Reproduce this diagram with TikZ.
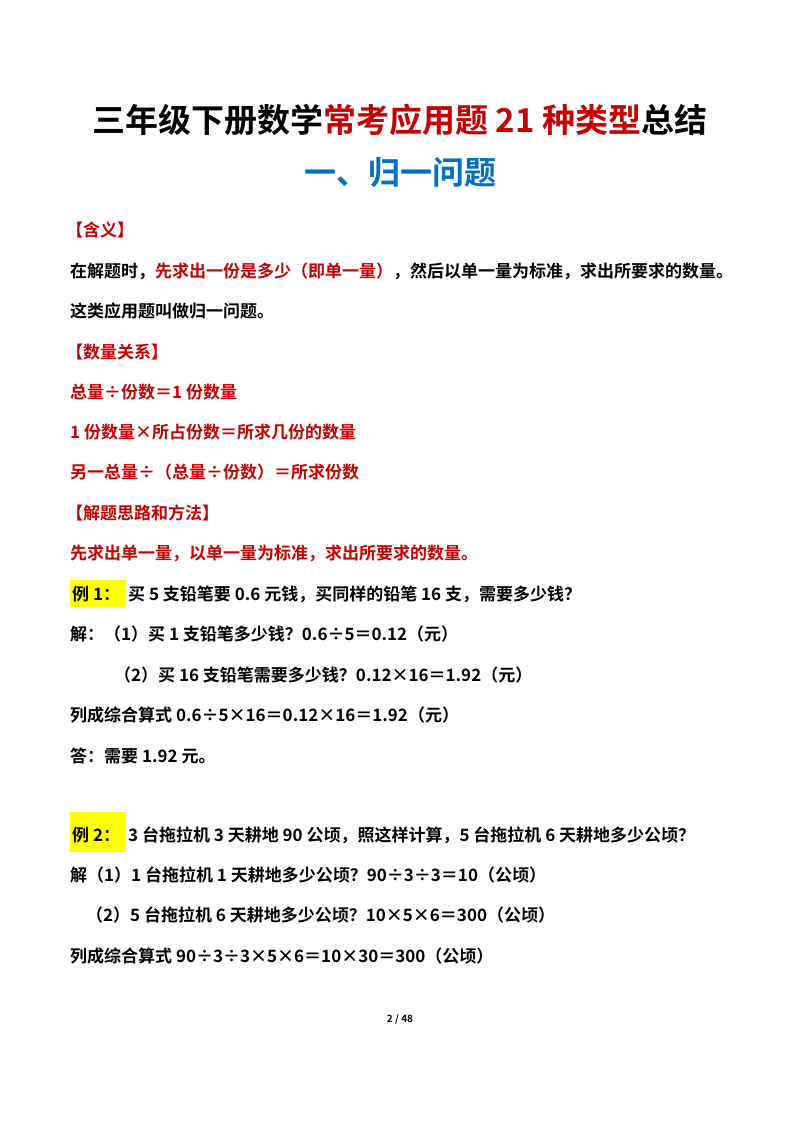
\documentclass[tikz,border=0pt]{standalone}
\usepackage{fontspec}
\setmainfont{Noto Sans CJK SC}[BoldFont={* Bold}]
\definecolor{tred}{RGB}{200,0,0}
\definecolor{tblue}{RGB}{0,112,192}
\definecolor{hl}{RGB}{255,255,0}
\begin{document}
\begin{tikzpicture}[x=1pt,y=-1pt,
  txt/.style={anchor=base west,inner sep=0pt,font=\fontsize{17}{17}\selectfont\bfseries}]
\useasboundingbox[fill=white] (0,0) rectangle (800,1132);
\node[anchor=base,inner sep=0pt,font=\fontsize{33}{33}\selectfont\bfseries] (title) at (400,132) {三年级下册数学\textcolor{tred}{常考应用题 21 种类型}总结};
\node[anchor=base,inner sep=0pt,font=\fontsize{32}{32}\selectfont\bfseries,text=tblue] (sub) at (400,184) {一、归一问题};
\node[txt,text=tred] (l1) at (66,236) {【含义】};
\node[txt] (l2) at (70,277) {在解题时，\textcolor{tred}{先求出一份是多少（即单一量）}，然后以单一量为标准，求出所要求的数量。};
\node[txt] (l3) at (70,317) {这类应用题叫做归一问题。};
\node[txt,text=tred] (l4) at (66,358) {【数量关系】};
\node[txt,text=tred] (l5) at (70,398) {总量÷份数＝1 份数量};
\node[txt,text=tred] (l6) at (70,438) {1 份数量×所占份数＝所求几份的数量};
\node[txt,text=tred] (l7) at (70,478) {另一总量÷（总量÷份数）＝所求份数};
\node[txt,text=tred] (l8) at (66,519) {【解题思路和方法】};
\node[txt,text=tred] (l9) at (70,559) {先求出单一量，以单一量为标准，求出所要求的数量。};
\fill[hl] (70,580) rectangle (126,607);
\node[txt] (e1) at (72,600) {例 1：};
\node[txt] (e1t) at (128,600) {买 5 支铅笔要 0.6 元钱，买同样的铅笔 16 支，需要多少钱？};
\node[txt] (e1a) at (70,640) {解：（1）买 1 支铅笔多少钱？0.6÷5＝0.12（元）};
\node[txt] (e1b) at (114,681) {（2）买 16 支铅笔需要多少钱？0.12×16＝1.92（元）};
\node[txt] (e1c) at (70,721) {列成综合算式 0.6÷5×16＝0.12×16＝1.92（元）};
\node[txt] (e1d) at (70,762) {答：需要 1.92 元。};
\fill[hl] (70,812) rectangle (126,852);
\node[txt] (e2) at (72,841) {例 2：};
\node[txt] (e2t) at (128,841) {3 台拖拉机 3 天耕地 90 公顷，照这样计算，5 台拖拉机 6 天耕地多少公顷？};
\node[txt] (e2a) at (70,881) {解（1）1 台拖拉机 1 天耕地多少公顷？90÷3÷3＝10（公顷）};
\node[txt] (e2b) at (86,921) {（2）5 台拖拉机 6 天耕地多少公顷？10×5×6＝300（公顷）};
\node[txt] (e2c) at (70,962) {列成综合算式 90÷3÷3×5×6＝10×30＝300（公顷）};
\node[anchor=base,inner sep=0pt,font=\fontsize{10}{10}\selectfont\bfseries] (foot) at (400,1022) {2 / 48};
\end{tikzpicture}
\end{document}
